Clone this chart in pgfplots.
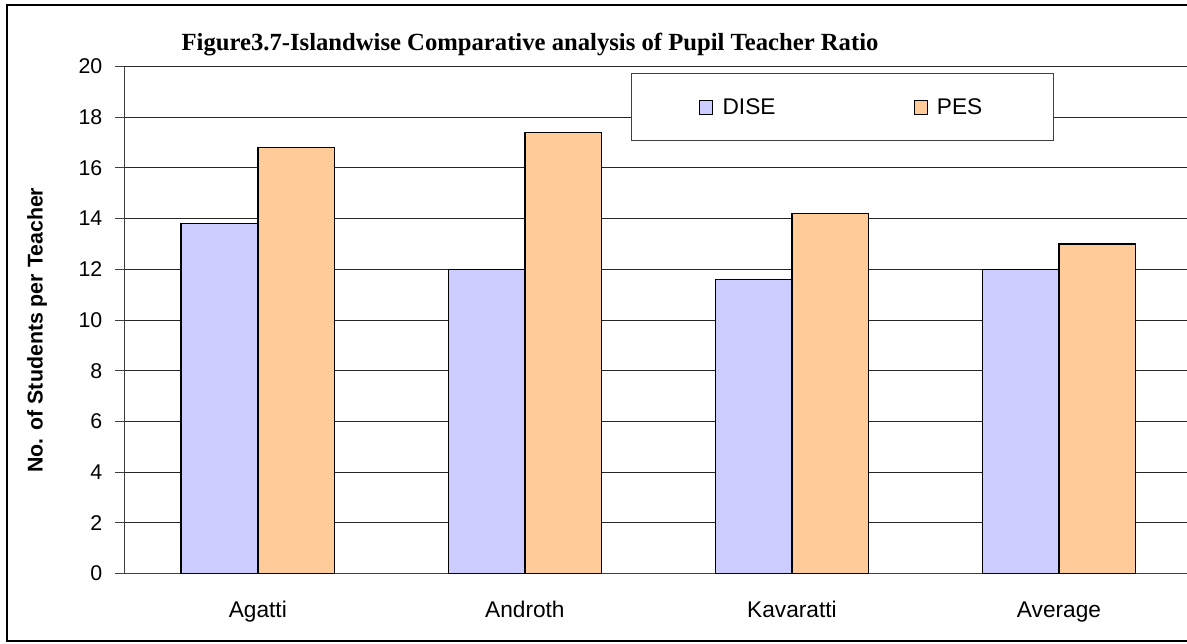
\documentclass[border=0pt]{standalone}
\usepackage{fontspec}
\setmainfont{Liberation Sans}
\newfontfamily\titlefont{Liberation Serif}
\usepackage{pgfplots}
\pgfplotsset{compat=1.18}
\definecolor{diseblue}{RGB}{204,204,255}
\definecolor{pesorange}{RGB}{255,204,153}
\begin{document}
\begin{tikzpicture}
\path[use as bounding box] (0,0) rectangle (890.25pt,482.25pt);
\clip (0,0) rectangle (890.25pt,482.25pt);
\begin{axis}[
  at={(93.225pt,52.125pt)}, anchor=south west,
  scale only axis, width=801.15pt, height=380.25pt,
  ybar=0pt, bar width=0.287,
  xmin=-0.5, xmax=3.5, ymin=0, ymax=20,
  ytick={0,2,...,20},
  xtick={0,1,2,3},
  xticklabels={Agatti,Androth,Kavaratti,Average},
  x tick style={draw=none},
  extra x ticks={-0.5,0.5,1.5,2.5,3.5},
  extra x tick labels={},
  extra x tick style={tick style={draw=black!75, line width=0.75pt}},
  tick align=outside,
  major tick length=7pt,
  y tick style={draw=black!75, line width=0.75pt},
  axis lines*=left,
  axis line style={black!75, line width=0.9pt},
  ymajorgrids,
  grid style={black!85, line width=0.75pt},
  /pgf/number format/assume math mode=true,
  tick label style={font=\fontsize{16}{19}\selectfont},
  yticklabel style={xshift=-6pt},
  xticklabel style={yshift=-10.5pt, font=\fontsize{17}{20}\selectfont},
  ylabel={No. of Students per Teacher},
  ylabel style={font=\bfseries\fontsize{16}{19}\selectfont, at={(axis description cs:-0.0817,0.48)}, anchor=center, rotate=0},
  title={Figure3.7-Islandwise Comparative analysis of Pupil Teacher Ratio},
  title style={font=\titlefont\bfseries\fontsize{18.5}{22}\selectfont, at={(axis description cs:0.3798,1.0167)}, anchor=base},
  legend columns=2,
  legend style={at={(axis description cs:0.474,0.9866)}, anchor=north west,
    draw=black!75, line width=0.75pt, fill=white,
    font=\fontsize{17}{20}\selectfont,
    inner xsep=51pt, inner ysep=16.5pt,
    /tikz/every odd column/.append style={column sep=5.25pt},
    /tikz/every even column/.append style={column sep=101.5pt}},
  legend image code/.code={\draw[#1, line width=0.6pt] (0pt,-4.9pt) rectangle (9.75pt,4.9pt);},
]
\addplot[fill=diseblue, draw=black, line width=1.1pt] coordinates {(0,13.8) (1,12.0) (2,11.6) (3,12.0)};
\addplot[fill=pesorange, draw=black, line width=1.1pt] coordinates {(0,16.8) (1,17.4) (2,14.2) (3,13.0)};
\legend{DISE,PES}
\end{axis}
\draw[black, line width=1.5pt] (5.25pt,1.5pt) rectangle (900pt,478.5pt);
\end{tikzpicture}
\end{document}
